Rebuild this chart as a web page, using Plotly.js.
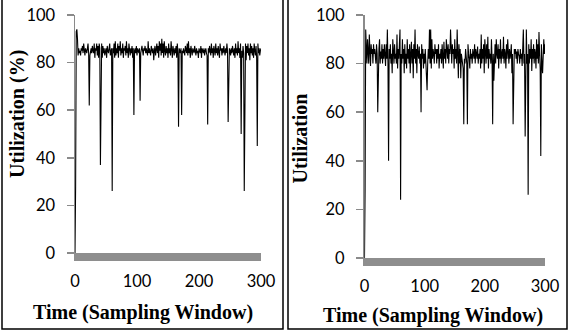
<!DOCTYPE html>
<html>
<head>
<meta charset="utf-8">
<script src="https://cdn.plot.ly/plotly-3.0.1.min.js"></script>
<style>html,body{margin:0;padding:0;background:#fff}#chart{width:569px;height:335px}</style>
</head>
<body>
<div id="chart"></div>
<script>
// Left panel: Utilization (%) per sampling window (t = 0..300)
const utilLeft = [
  0, 28, 93, 94, 90, 83, 86, 84, 85, 83,
  86, 85, 87, 84, 88, 85, 83, 86, 85, 84,
  86, 88, 84, 62, 83, 85, 86, 84, 87, 85,
  84, 88, 82, 86, 85, 88, 83, 87, 82, 88,
  86, 37, 85, 88, 82, 87, 84, 86, 83, 85,
  86, 82, 87, 85, 84, 86, 88, 83, 85, 86,
  26, 86, 84, 88, 82, 89, 83, 86, 84, 88,
  82, 87, 85, 89, 83, 86, 84, 88, 82, 86,
  85, 87, 83, 89, 84, 86, 82, 88, 85, 83,
  86, 84, 87, 82, 86, 58, 85, 86, 84, 87,
  83, 86, 85, 84, 86, 64, 84, 86, 87, 85,
  83, 86, 85, 87, 84, 86, 85, 83, 89, 84,
  86, 85, 83, 87, 85, 84, 86, 81, 85, 87,
  83, 86, 88, 84, 87, 82, 89, 85, 88, 83,
  90, 84, 88, 82, 89, 85, 83, 87, 84, 86,
  82, 88, 84, 86, 83, 89, 84, 82, 87, 85,
  83, 86, 84, 87, 82, 88, 84, 53, 86, 85,
  84, 86, 58, 85, 84, 86, 85, 83, 87, 85,
  84, 88, 83, 89, 84, 86, 82, 87, 85, 83,
  86, 85, 84, 87, 85, 83, 86, 84, 85, 82,
  86, 85, 84, 87, 82, 86, 85, 84, 86, 83,
  85, 86, 84, 83, 54, 86, 84, 87, 85, 83,
  88, 84, 86, 82, 87, 85, 83, 88, 84, 86,
  83, 87, 84, 82, 88, 85, 86, 83, 86, 84,
  87, 85, 83, 86, 84, 88, 85, 55, 84, 86,
  85, 83, 86, 84, 87, 85, 83, 86, 82, 88,
  84, 86, 83, 89, 84, 86, 82, 88, 50, 85,
  82, 87, 84, 26, 86, 88, 81, 87, 84, 88,
  83, 86, 81, 88, 84, 87, 83, 86, 82, 88,
  85, 83, 87, 82, 45, 88, 84, 86, 83, 85,
  86
];
// Right panel: Utilization per sampling window (t = 0..300)
const utilRight = [
  0, 28, 94, 86, 80, 90, 84, 80, 92, 82,
  79, 88, 84, 86, 80, 88, 84, 86, 82, 80,
  88, 84, 60, 82, 86, 90, 80, 85, 82, 88,
  80, 86, 82, 88, 84, 79, 88, 82, 94, 80,
  40, 86, 82, 88, 80, 84, 76, 90, 86, 80,
  88, 82, 84, 80, 92, 78, 86, 82, 88, 94,
  24, 84, 80, 90, 82, 86, 76, 88, 80, 84,
  78, 90, 82, 86, 80, 88, 76, 84, 89, 80,
  86, 74, 88, 82, 94, 80, 86, 76, 88, 84,
  82, 87, 80, 84, 60, 88, 82, 86, 78, 84,
  80, 86, 82, 75, 69, 80, 86, 82, 94, 80,
  94, 78, 90, 82, 86, 84, 80, 88, 84, 86,
  80, 86, 82, 88, 78, 84, 82, 86, 80, 88,
  84, 78, 89, 82, 86, 80, 90, 84, 82, 88,
  80, 86, 84, 94, 82, 80, 88, 84, 86, 78,
  90, 82, 86, 80, 94, 82, 74, 88, 80, 86,
  74, 84, 82, 80, 78, 55, 82, 80, 86, 84,
  80, 55, 88, 84, 82, 78, 86, 82, 84, 80,
  86, 84, 82, 88, 80, 86, 84, 82, 87, 80,
  84, 82, 86, 78, 92, 80, 86, 82, 88, 76,
  90, 84, 80, 88, 82, 91, 78, 86, 82, 84,
  80, 90, 82, 55, 84, 73, 86, 88, 80, 90,
  84, 82, 88, 78, 86, 82, 90, 80, 84, 86,
  82, 91, 80, 86, 84, 78, 88, 82, 90, 84,
  80, 86, 82, 84, 88, 76, 84, 55, 82, 86,
  84, 86, 82, 85, 80, 86, 84, 83, 80, 86,
  82, 84, 79, 86, 94, 80, 84, 50, 82, 94,
  80, 84, 26, 88, 80, 86, 82, 90, 77, 86,
  82, 88, 80, 86, 84, 78, 90, 82, 88, 80,
  93, 84, 78, 42, 88, 80, 76, 86, 90, 84,
  88
];
const xTicks = [0, 100, 200, 300];
const yTicks = [0, 20, 40, 60, 80, 100];
const xTitle = 'Time (Sampling Window)';
const yTitleLeft = 'Utilization (%)';
const yTitleRight = 'Utilization';

const W = 569, H = 335;
const pxX = v => v / W;
const pxY = v => 1 - v / H;

const timeL = utilLeft.map((_, i) => i);
const timeR = utilRight.map((_, i) => i);

const tickFont = {family: 'Lato, "Open Sans", sans-serif', size: 16.5, color: '#000'};
const titleFont = {family: '"Liberation Serif", "Times New Roman", serif', size: 20, color: '#000', weight: 'bold'};
const axisGrey = '#8a8a8a';

function xAxis(domain, anchor) {
  return {
    domain: domain, anchor: anchor, range: [0, 300], tickvals: xTicks,
    showline: true, linewidth: 8, linecolor: '#8e8e8e', ticks: '',
    showgrid: false, zeroline: false, tickfont: tickFont, ticklabelstandoff: 6,
    fixedrange: true
  };
}
function yAxis(domain, anchor) {
  return {
    domain: domain, anchor: anchor, range: [0, 100], tickvals: yTicks,
    showline: true, linewidth: 1.5, linecolor: axisGrey, ticks: 'outside', ticklen: 7,
    tickwidth: 1.5, tickcolor: axisGrey, showgrid: false, zeroline: false,
    tickfont: tickFont, ticklabelstandoff: 8, layer: 'below traces',
    fixedrange: true
  };
}
function title(text, x, y, angle) {
  return {text: text, xref: 'paper', yref: 'paper', x: pxX(x), y: pxY(y),
          xanchor: 'center', yanchor: 'middle', showarrow: false, textangle: angle,
          font: titleFont};
}

const traces = [
  {x: timeL, y: utilLeft, type: 'scatter', mode: 'lines', xaxis: 'x', yaxis: 'y',
   line: {color: '#000', width: 1.1}, hoverinfo: 'skip', showlegend: false},
  {x: timeR, y: utilRight, type: 'scatter', mode: 'lines', xaxis: 'x2', yaxis: 'y2',
   line: {color: '#000', width: 1.1}, hoverinfo: 'skip', showlegend: false}
];

const layout = {
  width: W, height: H,
  margin: {l: 0, r: 0, t: 0, b: 0, pad: 0},
  paper_bgcolor: '#fff', plot_bgcolor: '#fff',
  showlegend: false,
  xaxis: xAxis([pxX(75), pxX(261)], 'y'),
  yaxis: yAxis([pxY(253), pxY(15)], 'x'),
  xaxis2: xAxis([pxX(364.5), pxX(545)], 'y2'),
  yaxis2: yAxis([pxY(258), pxY(15)], 'x2'),
  annotations: [
    title(xTitle, 142.5, 312, 0),
    title(xTitle, 432.5, 315, 0),
    title(yTitleLeft, 18, 114, -90),
    title(yTitleRight, 299, 138.5, -90)
  ],
  shapes: [
    {type: 'rect', xref: 'paper', yref: 'paper', x0: pxX(2), x1: pxX(283), y0: pxY(329), y1: 1.05,
     line: {color: '#000', width: 1.5}, fillcolor: 'rgba(0,0,0,0)'},
    {type: 'rect', xref: 'paper', yref: 'paper', x0: pxX(288), x1: pxX(567), y0: pxY(329), y1: 1.05,
     line: {color: '#000', width: 1.5}, fillcolor: 'rgba(0,0,0,0)'}
  ]
};

Plotly.newPlot('chart', traces, layout, {staticPlot: true, displayModeBar: false});
</script>
</body>
</html>
